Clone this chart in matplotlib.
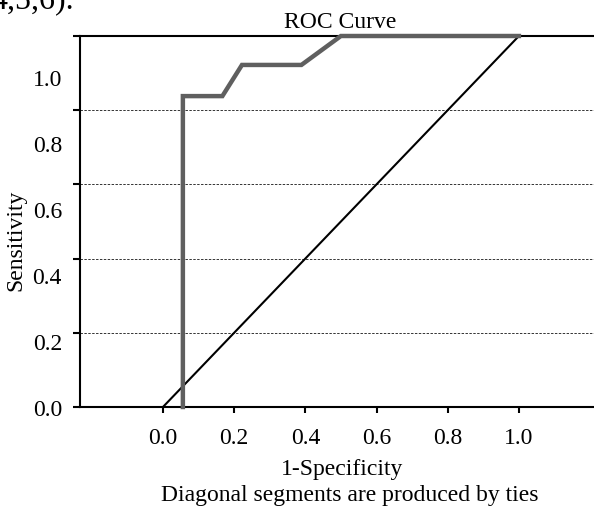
import matplotlib
matplotlib.use("Agg")
import matplotlib.pyplot as plt

plt.rcParams['font.family'] = ['Liberation Serif', 'DejaVu Serif']

# ROC curve points (1-specificity, sensitivity)
fpr = [0.056, 0.056, 0.167, 0.222, 0.389, 0.5, 1.0]
tpr = [0.0, 0.838, 0.838, 0.922, 0.922, 1.0, 1.0]

# reference diagonal
ref_x = [0.0, 1.0]
ref_y = [0.0, 1.0]

x_ticks = [0.0, 0.2, 0.4, 0.6, 0.8, 1.0]
x_labels = ["0.0", "0.2", "0.4", "0.6", "0.8", "1.0"]
y_ticks = [0.0, 0.2, 0.4, 0.6, 0.8, 1.0]
y_labels = ["0.0", "0.2", "0.4", "0.6", "0.8", "1.0"]
# the y labels in the source sit lower than their tick marks
y_label_scale = 330 / 371

W, H = 594, 510
fs = 17
fig = plt.figure(figsize=(W / 100, H / 100), dpi=100)
ax = fig.add_axes([80 / W, 1 - 408 / H, 1 - 80 / W, (408 - 37) / H])

ax.plot(ref_x, ref_y, color='black', lw=1.5, zorder=3)
ax.plot(fpr, tpr, color='#5f5f5f', lw=3.2, zorder=4, clip_on=False,
        solid_joinstyle='miter')

ax.set_xlim(-0.233, 1.211)
ax.set_ylim(0, 1)

ax.yaxis.remove_overlapping_locs = False
ax.set_xticks(x_ticks)
ax.set_xticklabels(x_labels)
ax.set_yticks(y_ticks)
ax.set_yticklabels([])
ax.set_yticks([v * y_label_scale for v in y_ticks], minor=True)
ax.set_yticklabels(y_labels, minor=True)

ax.tick_params(axis='x', direction='out', length=4.5, width=1.5, pad=10,
               labelsize=fs)
ax.tick_params(axis='y', which='major', direction='out', length=5, width=1.5)
ax.tick_params(axis='y', which='minor', length=0, pad=13, labelsize=fs)

ax.yaxis.grid(True, which='major', linestyle=(0, (2.5, 1.5)), color='#333333',
              lw=0.7)
ax.set_axisbelow(True)

for side in ['left', 'bottom', 'top']:
    ax.spines[side].set_linewidth(1.5)
    ax.spines[side].set_color('black')
ax.spines['right'].set_visible(False)

fig.text(340 / W, 1 - 22 / H, "ROC Curve", ha='center', va='center',
         fontsize=fs)
fig.text(342 / W, 1 - 470 / H, "1-Specificity", ha='center', va='center',
         fontsize=fs)
fig.text(350 / W, 1 - 496 / H, "Diagonal segments are produced by ties",
         ha='center', va='center', fontsize=fs)
fig.text(16 / W, 1 - 240 / H, "Sensitivity", ha='center', va='center',
         rotation=90, fontsize=fs)
fig.text(-0.015, 1 - 8 / H, "4,5,6).", ha='left', va='baseline',
         fontsize=23)

fig.savefig("out.png", dpi=100)
